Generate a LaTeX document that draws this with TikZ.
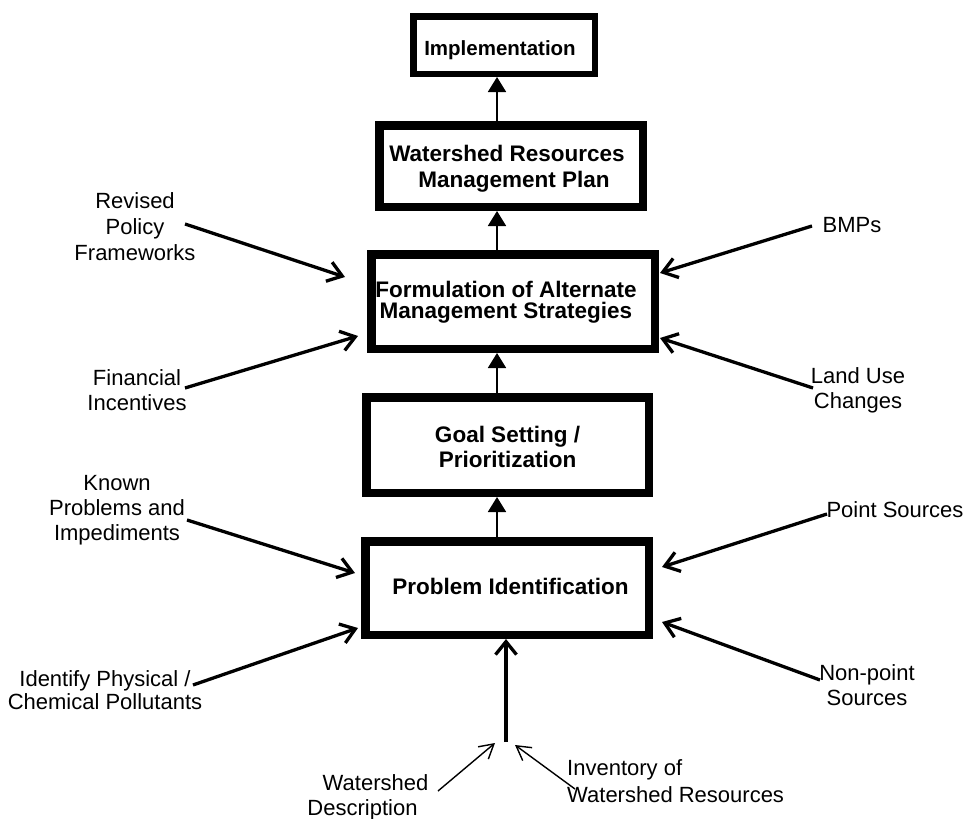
\documentclass[tikz,border=0pt]{standalone}
\usepackage{fontspec}
\setmainfont{Liberation Sans}
\usetikzlibrary{arrows.meta}
\newcommand{\cstack}[2]{\vtop{\baselineskip=#1\lineskiplimit=-100pt\halign{\hfil##\hfil\cr#2\crcr}}}
\newcommand{\lstack}[2]{\vtop{\baselineskip=#1\lineskiplimit=-100pt\halign{##\hfil\cr#2\crcr}}}
\begin{document}
\begin{tikzpicture}[x=1pt,y=-1pt,
  box/.style={draw, line width=8.5pt, inner sep=0pt, font=\fontsize{22.5}{22.5}\selectfont\bfseries},
  lbl/.style={inner sep=0pt, anchor=base, font=\fontsize{22}{26}\selectfont},
  uparrow/.style={line width=1.8pt, -{Triangle[length=15pt,width=18pt]}},
  feed/.style={line width=3.3pt, -{Straight Barb[length=14pt,width=20pt]}},
  thinfeed/.style={line width=1.4pt, -{Straight Barb[length=14pt,width=16pt]}}]
\useasboundingbox (0,0) rectangle (967,819);

% main boxes
\node[box, line width=6.5pt, minimum width=181.5pt, minimum height=57.5pt, text height=20pt, text depth=0pt,
  font=\fontsize{20.5}{20.5}\selectfont\bfseries] (impl) at (504,45) {Implementation\hspace*{8pt}};
\node[box, minimum width=263.5pt, minimum height=81.5pt, text height=5pt, text depth=15pt] (wrmp) at (511,166)
  {\cstack{26pt}{Watershed Resources\cr\hspace*{14pt}Management Plan}\hspace*{8pt}};
\node[box, minimum width=283.5pt, minimum height=94.5pt, text height=5pt, text depth=14pt] (fams) at (513,301.5)
  {\cstack{21.5pt}{Formulation of Alternate\cr Management Strategies}\hspace*{14pt}};
\node[box, minimum width=282.5pt, minimum height=95.5pt, text height=5pt, text depth=11pt] (gsp) at (507.5,445)
  {\cstack{25pt}{Goal Setting /\cr Prioritization}};
\node[box, minimum width=283.5pt, minimum height=93.5pt, text height=12pt, text depth=0pt] (pi) at (507,588)
  {\hspace*{7pt}Problem Identification};

% vertical arrows
\coordinate (ax) at (497,0);
\draw[uparrow] (wrmp.north -| ax) -- (impl.south -| ax);
\draw[uparrow] (fams.north -| ax) -- (wrmp.south -| ax);
\draw[uparrow] (gsp.north -| ax) -- (fams.south -| ax);
\draw[uparrow] (pi.north -| ax) -- (gsp.south -| ax);

\coordinate (bv) at (506,742);
\draw[line width=3.3pt, -{Straight Barb[length=13pt,width=21pt]}] (bv) -- (pi.south -| bv);

% labels
\node[lbl] (rpf) at (135,208) {\cstack{26pt}{Revised\cr Policy\cr Frameworks}};
\node[lbl] (fin) at (137,385) {\cstack{25pt}{Financial\cr Incentives}};
\node[lbl] (kp) at (117,490) {\cstack{25pt}{Known\cr Problems and\cr Impediments}};
\node[lbl] (ipc) at (105,686) {\cstack{23pt}{Identify Physical /\cr Chemical Pollutants}};
\node[lbl] (bmp) at (852,232) {BMPs};
\node[lbl] (luc) at (858,383) {\cstack{25pt}{Land Use\cr Changes}};
\node[lbl] (ps) at (895,517) {Point Sources};
\node[lbl] (nps) at (867,680) {\cstack{25pt}{Non-point\cr Sources}};
\node[lbl] (wd) at (362.5,790) {\cstack{25pt}{\hspace*{26pt}Watershed\cr Description}};
\node[lbl, anchor=base west] (inv) at (567,775) {\lstack{27pt}{Inventory of\cr Watershed Resources}};

% feed arrow end points
\coordinate (rpf-t) at (185,224);  \coordinate (rpf-h) at (345,277);
\coordinate (fin-t) at (185,388);  \coordinate (fin-h) at (358,336);
\coordinate (kp-t) at (187,520);   \coordinate (kp-h) at (355,573);
\coordinate (ipc-t) at (193,685);  \coordinate (ipc-h) at (358,628);
\coordinate (bmp-t) at (812,226);  \coordinate (bmp-h) at (660,273);
\coordinate (luc-t) at (813,388);  \coordinate (luc-h) at (660,338);
\coordinate (ps-t) at (827,514);   \coordinate (ps-h) at (662,567);
\coordinate (nps-t) at (820,680);  \coordinate (nps-h) at (662,622);
\coordinate (wd-t) at (438,791);   \coordinate (wd-h) at (495,743);
\coordinate (inv-t) at (575,789);  \coordinate (inv-h) at (515,745);

\draw[feed] (rpf-t) -- (rpf-h);
\draw[feed] (fin-t) -- (fin-h);
\draw[feed] (kp-t) -- (kp-h);
\draw[feed] (ipc-t) -- (ipc-h);
\draw[feed] (bmp-t) -- (bmp-h);
\draw[feed] (luc-t) -- (luc-h);
\draw[feed] (ps-t) -- (ps-h);
\draw[feed] (nps-t) -- (nps-h);
\draw[thinfeed] (wd-t) -- (wd-h);
\draw[thinfeed] (inv-t) -- (inv-h);
\end{tikzpicture}
\end{document}
